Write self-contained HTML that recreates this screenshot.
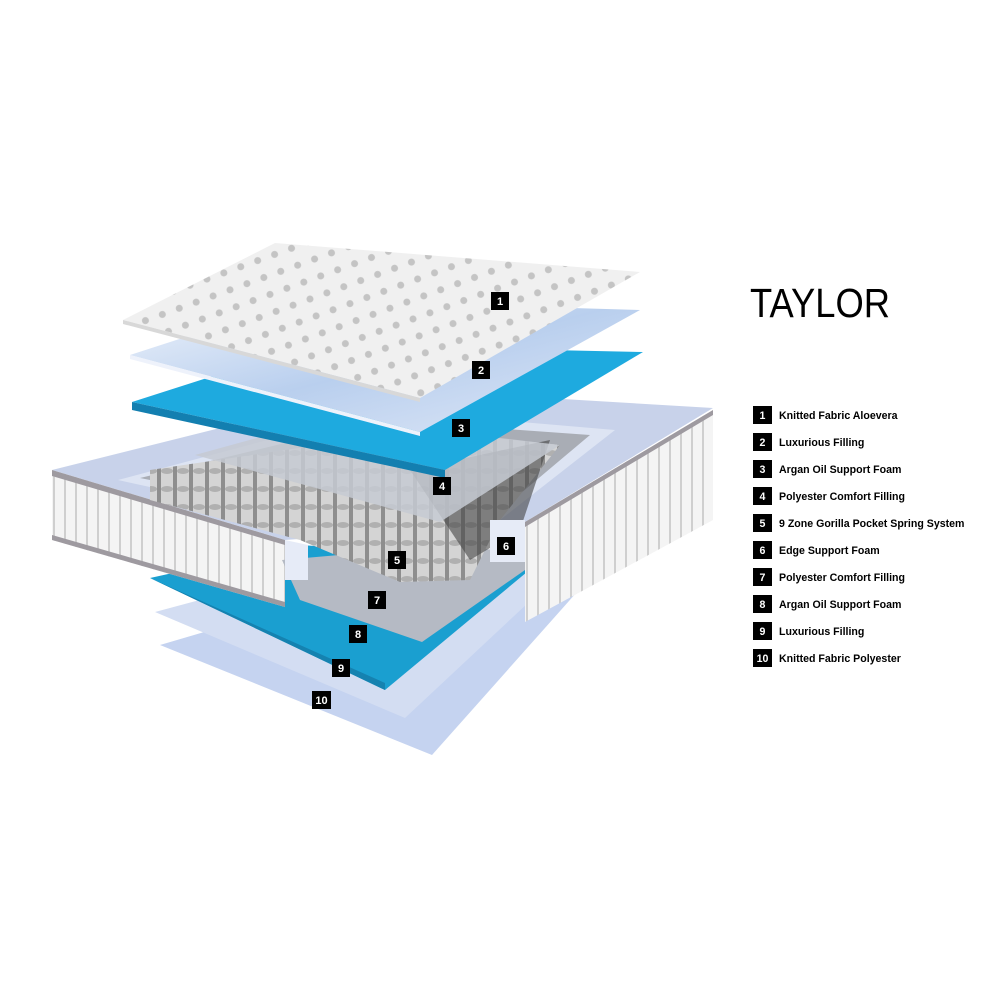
<!DOCTYPE html>
<html><head><meta charset="utf-8"><style>
body{margin:0;background:#fff;width:1000px;height:1000px;overflow:hidden;font-family:"Liberation Sans",Arial,sans-serif}
</style></head><body>
<svg width="1000" height="1000" viewBox="0 0 1000 1000" xmlns="http://www.w3.org/2000/svg" style="position:absolute;left:0;top:0">
<defs>
<pattern id="dots" width="18" height="18" patternUnits="userSpaceOnUse" patternTransform="rotate(-20)">
<rect width="18" height="18" fill="#f0f0f0"/><circle cx="9" cy="9" r="3.5" fill="#c4c4c4"/></pattern>
<pattern id="quilt" width="11" height="12" patternUnits="userSpaceOnUse">
<rect width="11" height="12" fill="#f4f4f4"/><rect x="9" width="2" height="12" fill="#cfcfcf"/></pattern>
<pattern id="spr" width="16" height="18" patternUnits="userSpaceOnUse">
<rect width="16" height="18" fill="#8e8e8e"/><rect x="1" width="12" height="18" fill="#d4d4d4"/><ellipse cx="7" cy="3" rx="6" ry="3" fill="#b0b0b0"/></pattern>
<linearGradient id="cl" x1="0" y1="0" x2="1" y2="1"><stop offset="0" stop-color="#eef3fb"/><stop offset=".5" stop-color="#b9cfee"/><stop offset="1" stop-color="#dfe8f7"/></linearGradient>
</defs>
<polygon points="160,645 320,598 585,583 432,755" fill="#c5d3f0"/>
<polygon points="155,612 330,565 590,545 405,718" fill="#d3ddf2"/>
<polygon points="150,578 300,545 527,560 527,572 385,690" fill="#1a9fd0"/>
<polygon points="150,578 385,683 385,690" fill="#1582b0"/>
<polygon points="52,470 380,388 713,408 525,522 285,540" fill="#c8d2ea"/>
<polygon points="52,470 285,540 285,607 52,540" fill="url(#quilt)"/>
<polygon points="52,470 285,540 285,545 52,476" fill="#9e9aa0"/>
<polygon points="52,540 285,607 285,602 52,535" fill="#9e9aa0"/>
<polygon points="525,522 713,410 713,520 525,622" fill="url(#quilt)"/>
<polygon points="525,522 713,410 713,415 525,527" fill="#9e9aa0"/>
<polygon points="118,480 380,410 615,430 500,520 300,520" fill="#dde4f3"/>
<polygon points="140,478 380,420 590,435 495,515 300,510" fill="#a9adb5"/>
<polygon points="282,560 420,548 525,550 525,570 422,642 300,600" fill="#b5bac4"/>
<polygon points="150,470 420,430 560,445 500,520 470,580 400,582 300,540 150,500" fill="url(#spr)"/>
<polygon points="410,470 550,440 520,530 470,560" fill="#444" opacity=".6"/>
<polygon points="285,540 308,545 308,580 285,580" fill="#e6ebf7"/>
<polygon points="490,520 525,520 525,562 490,562" fill="#e6ebf7"/>
<polygon points="195,455 330,418 560,445 440,522" fill="#c5cad2" opacity=".85"/>
<polygon points="132,402 310,345 643,352 445,470" fill="#1eaadf"/>
<polygon points="132,402 445,470 445,478 132,410" fill="#137fb0"/>
<polygon points="130,355 300,300 640,310 420,432" fill="url(#cl)"/>
<polygon points="130,355 420,432 420,436 130,359" fill="#eef2fb"/>
<polygon points="123,320 275,243 640,272 420,398" fill="url(#dots)"/>
<polygon points="123,320 420,398 420,402 123,324" fill="#d8d8d8"/>
<g fill="#000">
<rect x="491" y="292" width="18" height="18"/>
<rect x="472" y="361" width="18" height="18"/>
<rect x="452" y="419" width="18" height="18"/>
<rect x="433" y="477" width="18" height="18"/>
<rect x="388" y="551" width="18" height="18"/>
<rect x="497" y="537" width="18" height="18"/>
<rect x="368" y="591" width="18" height="18"/>
<rect x="349" y="625" width="18" height="18"/>
<rect x="332" y="659" width="18" height="18"/>
<rect x="312" y="691" width="19" height="18"/>
</g>
<g font-size="11" font-weight="bold" fill="#fff" text-anchor="middle">
<text x="500" y="305">1</text><text x="481" y="374">2</text><text x="461" y="432">3</text><text x="442" y="490">4</text><text x="397" y="564">5</text><text x="506" y="550">6</text><text x="377" y="604">7</text><text x="358" y="638">8</text><text x="341" y="672">9</text><text x="321.5" y="704">10</text>
</g>
<text x="750" y="317" font-size="41" fill="#000" textLength="140" lengthAdjust="spacingAndGlyphs">TAYLOR</text>
<g font-size="10.6" font-weight="bold">
<g fill="#000">
<rect x="753" y="406" width="19" height="18"/><rect x="753" y="433" width="19" height="18"/><rect x="753" y="460" width="19" height="18"/><rect x="753" y="487" width="19" height="18"/><rect x="753" y="514" width="19" height="18"/><rect x="753" y="541" width="19" height="18"/><rect x="753" y="568" width="19" height="18"/><rect x="753" y="595" width="19" height="18"/><rect x="753" y="622" width="19" height="18"/><rect x="753" y="649" width="19" height="18"/>
</g>
<g fill="#fff" text-anchor="middle">
<text x="762.5" y="419">1</text><text x="762.5" y="446">2</text><text x="762.5" y="473">3</text><text x="762.5" y="500">4</text><text x="762.5" y="527">5</text><text x="762.5" y="554">6</text><text x="762.5" y="581">7</text><text x="762.5" y="608">8</text><text x="762.5" y="635">9</text><text x="762.5" y="662">10</text>
</g>
<g fill="#000">
<text x="779" y="419">Knitted Fabric Aloevera</text>
<text x="779" y="446">Luxurious Filling</text>
<text x="779" y="473">Argan Oil Support Foam</text>
<text x="779" y="500">Polyester Comfort Filling</text>
<text x="779" y="527">9 Zone Gorilla Pocket Spring System</text>
<text x="779" y="554">Edge Support Foam</text>
<text x="779" y="581">Polyester Comfort Filling</text>
<text x="779" y="608">Argan Oil Support Foam</text>
<text x="779" y="635">Luxurious Filling</text>
<text x="779" y="662">Knitted Fabric Polyester</text>
</g></g>
</svg>
</body></html>
